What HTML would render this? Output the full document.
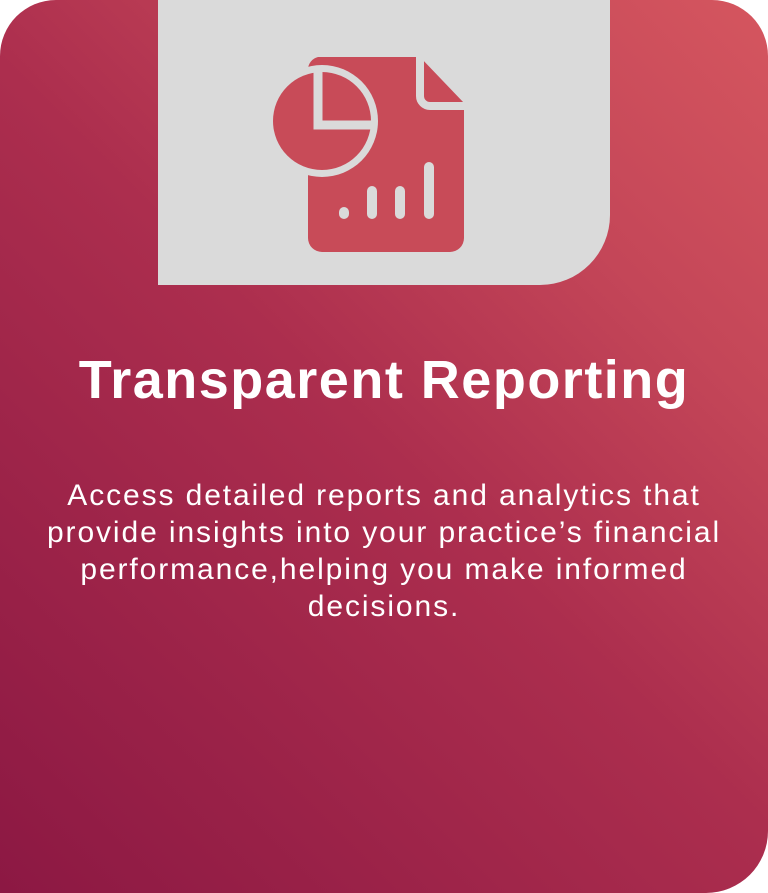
<!DOCTYPE html>
<html><head><style>
html,body{margin:0;padding:0;background:#fff;}
#card{position:absolute;left:0;top:0;width:768px;height:893px;border-radius:56px 56px 62px 0;
background:linear-gradient(45deg,#8c1843 0%,#ac2e4e 50%,#c44658 75%,#d5565f 100%);overflow:hidden;font-family:"Liberation Sans",sans-serif;}
#top{position:absolute;left:158px;top:0;width:452px;height:285px;background:#dadada;border-radius:0 0 70px 0;}
h1{position:absolute;left:0;width:768px;top:348px;margin:0;text-align:center;color:#fff;font-size:54px;font-weight:bold;letter-spacing:1.5px;line-height:64px;}
p{position:absolute;left:20px;width:728px;top:477px;margin:0;text-align:center;color:#fff;font-size:30px;line-height:37px;letter-spacing:1.9px;}
</style></head><body>
<div id="card">
<div id="top"></div>
<svg width="768" height="300" style="position:absolute;left:0;top:0">
<path d="M318 57 H420 L464 103 V238 a14 14 0 0 1 -14 14 H322 a14 14 0 0 1 -14 -14 V70 a13 13 0 0 1 10 -13Z" fill="#c84b58"/>
<path d="M420 52 V96 a10 10 0 0 0 10 10 H470" fill="none" stroke="#dadada" stroke-width="8"/>
<circle cx="322" cy="121" r="56" fill="#dadada"/>
<circle cx="322" cy="121" r="49" fill="#c84b58"/>
<path d="M318 68 V125 H374" fill="none" stroke="#dadada" stroke-width="9"/>
<g stroke="#dadada" stroke-width="10" stroke-linecap="round">
<line x1="344" y1="212" x2="344" y2="214"/>
<line x1="372" y1="191" x2="372" y2="214"/>
<line x1="400" y1="191" x2="400" y2="214"/>
<line x1="429" y1="167" x2="429" y2="214"/>
</g>
</svg>
<h1>Transparent Reporting</h1>
<p>Access detailed reports and analytics that<br>provide insights into your practice’s financial<br>performance,helping you make informed<br>decisions.</p>
</div>
</body></html>
